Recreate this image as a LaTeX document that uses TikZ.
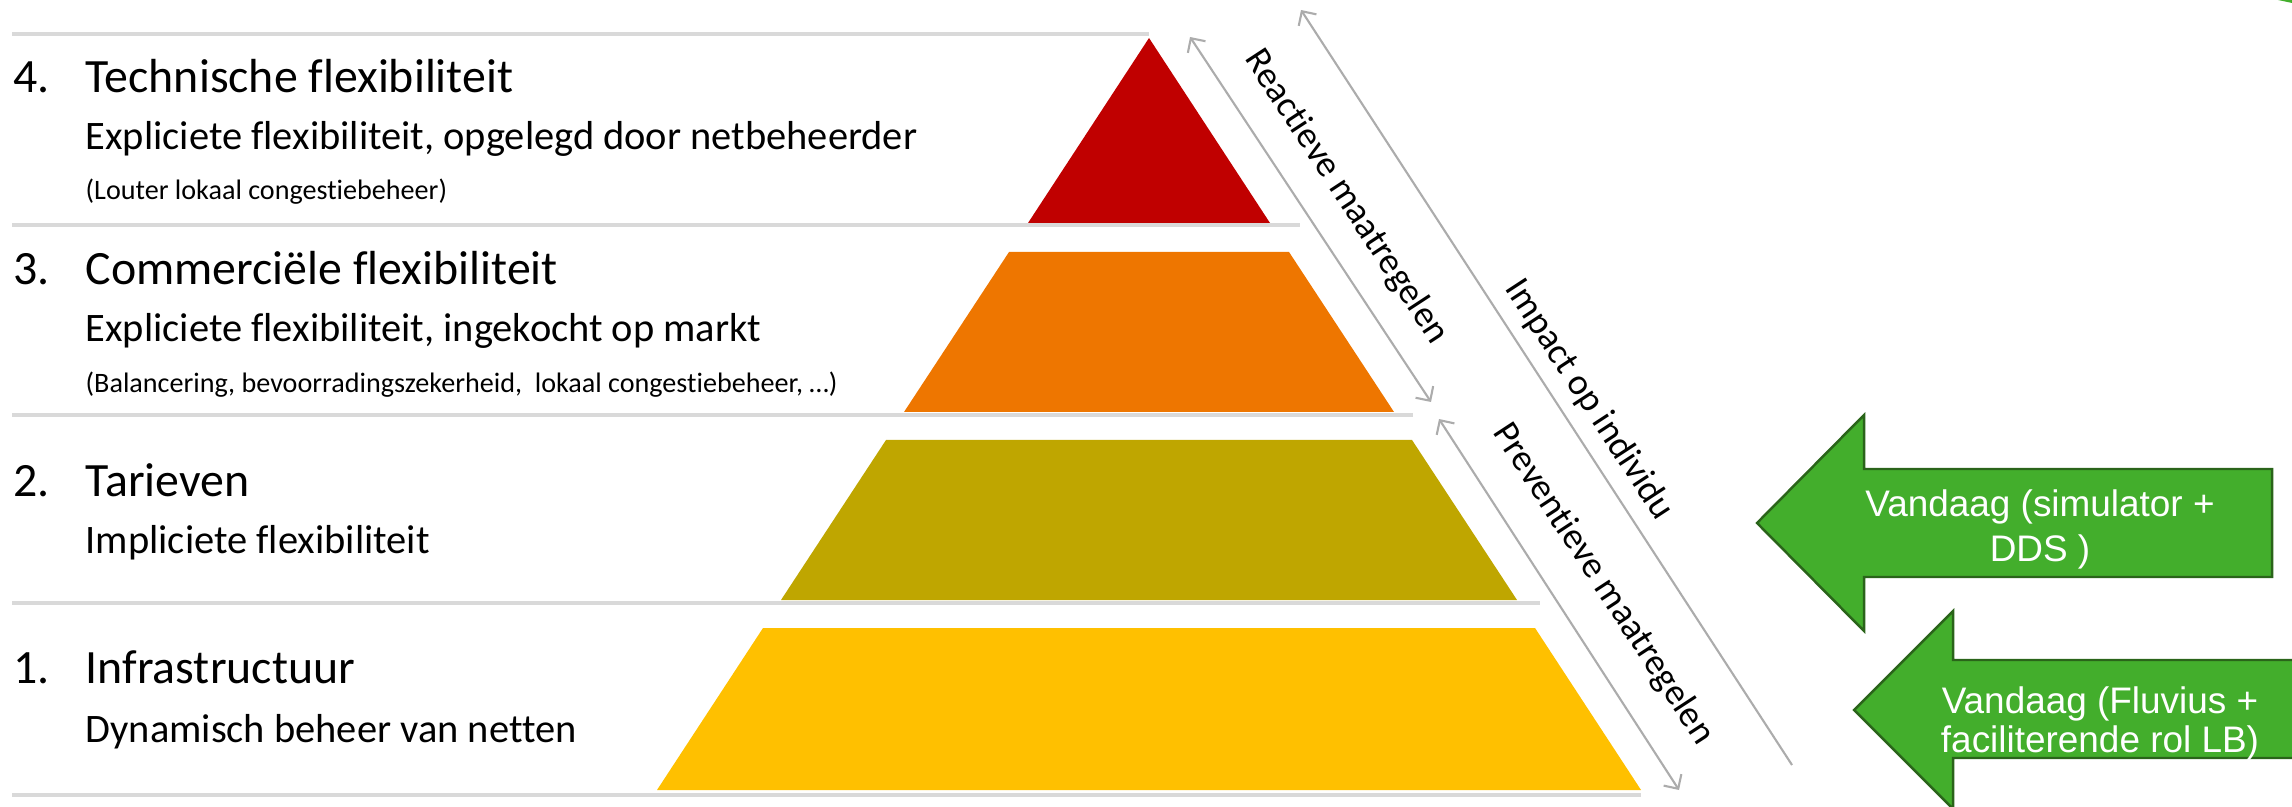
\documentclass[tikz,border=0pt]{standalone}
\usepackage{fontspec}
\setmainfont{Carlito}[Ligatures=NoCommon]
\newfontfamily\arialfont{Liberation Sans}
\usetikzlibrary{arrows.meta}

\definecolor{lvlred}{HTML}{C00000}
\definecolor{lvlorange}{HTML}{EE7600}
\definecolor{lvlolive}{HTML}{BFA600}
\definecolor{lvlyellow}{HTML}{FFC000}
\definecolor{todaygreen}{HTML}{43AE2C}
\definecolor{todayedge}{HTML}{2A641A}

\begin{document}
\begin{tikzpicture}[x=0.01cm, y=-0.01cm, >={Straight Barb[length=3pt,width=6pt]},
    num/.style={anchor=base west, inner sep=0pt, font=\fontsize{13.6}{16}\selectfont},
    head/.style={anchor=base west, inner sep=0pt, font=\fontsize{13.6}{16}\selectfont},
    sub/.style={anchor=base west, inner sep=0pt, font=\fontsize{11.5}{14}\selectfont},
    note/.style={anchor=base west, inner sep=0pt, font=\fontsize{8}{10}\selectfont},
    sep line/.style={draw=gray!30, line width=0.9pt},
    scale line/.style={draw=gray!65, line width=0.6pt},
    side label/.style={rotate=-56.8, inner sep=0pt, font=\fontsize{10.5}{12}\selectfont},
    today/.style={fill=todaygreen, draw=todayedge, line width=0.7pt},
    today text/.style={text=white, anchor=base, inner sep=0pt, font=\arialfont\fontsize{10.5}{12}\selectfont}]

    \useasboundingbox (0,0) rectangle (2292,807);
    \clip (0,0) rectangle (2292,807);

    % separators between the levels
    \draw[sep line] (12,34) -- (1149,34);
    \draw[sep line] (12,225) -- (1300,225);
    \draw[sep line] (12,415) -- (1413,415);
    \draw[sep line] (12,603) -- (1540,603);
    \draw[sep line] (12,795) -- (1641,795);

    % pyramid
    \fill[lvlred] (1149,38) -- (1270,223) -- (1028,223) -- cycle;
    \fill[lvlorange] (1009,252) -- (1289,252) -- (1394,412) -- (904,412) -- cycle;
    \fill[lvlolive] (886,440) -- (1412,440) -- (1517,600) -- (781,600) -- cycle;
    \fill[lvlyellow] (763,628) -- (1535,628) -- (1641,790) -- (657,790) -- cycle;

    % level texts
    \node[num] (n4) at (13,93) {4.};
    \node[head] (h4) at (85,93) {Technische flexibiliteit};
    \node[sub] (s4) at (85,150) {Expliciete flexibiliteit, opgelegd door netbeheerder};
    \node[note] (c4) at (85,200) {(Louter lokaal congestiebeheer)};

    \node[num] (n3) at (13,285) {3.};
    \node[head] (h3) at (85,285) {Commerciële flexibiliteit};
    \node[sub] (s3) at (85,342) {Expliciete flexibiliteit, ingekocht op markt};
    \node[note] (c3) at (85,393) {(Balancering, bevoorradingszekerheid,\ \ lokaal congestiebeheer, …)};

    \node[num] (n2) at (13,497) {2.};
    \node[head] (h2) at (85,497) {Tarieven};
    \node[sub] (s2) at (85,554) {Impliciete flexibiliteit};

    \node[num] (n1) at (13,683) {1.};
    \node[head] (h1) at (85,683) {Infrastructuur};
    \node[sub] (s1) at (85,742) {Dynamisch beheer van netten};

    % side scales
    \coordinate (r1) at (1190,37);
    \coordinate (r2) at (1431,402);
    \coordinate (p1) at (1439,419);
    \coordinate (p2) at (1679,790);
    \coordinate (i1) at (1301,10);
    \coordinate (i2) at (1792,765);

    \draw[scale line, <->] (r1) -- (r2);
    \draw[scale line, <->] (p1) -- (p2);
    \draw[scale line, <-] (i1) -- (i2);

    \node[side label] (rl) at (1346,197) {Reactieve maatregelen};
    \node[side label] (il) at (1589,400) {Impact op individu};
    \node[side label] (pl) at (1603,584) {Preventieve maatregelen};

    % green arrows
    \draw[today] (1757,523) -- (1864,415) -- (1864,469) -- (2272,469) -- (2272,577) -- (1864,577) -- (1864,631) -- cycle;
    \node[today text] (t1a) at (2040,516) {Vandaag (simulator +};
    \node[today text] (t1b) at (2040,561) {DDS )};

    \draw[today] (1854,710) -- (1953,611) -- (1953,660) -- (2330,660) -- (2330,758) -- (1953,758) -- (1953,809) -- cycle;
    \node[today text] (t2a) at (2100,713) {Vandaag (Fluvius +};
    \node[today text] (t2b) at (2100,752) {faciliterende rol LB)};

    \fill[todaygreen] (2278,0) -- (2292,0) -- (2292,3) -- cycle;
\end{tikzpicture}
\end{document}
